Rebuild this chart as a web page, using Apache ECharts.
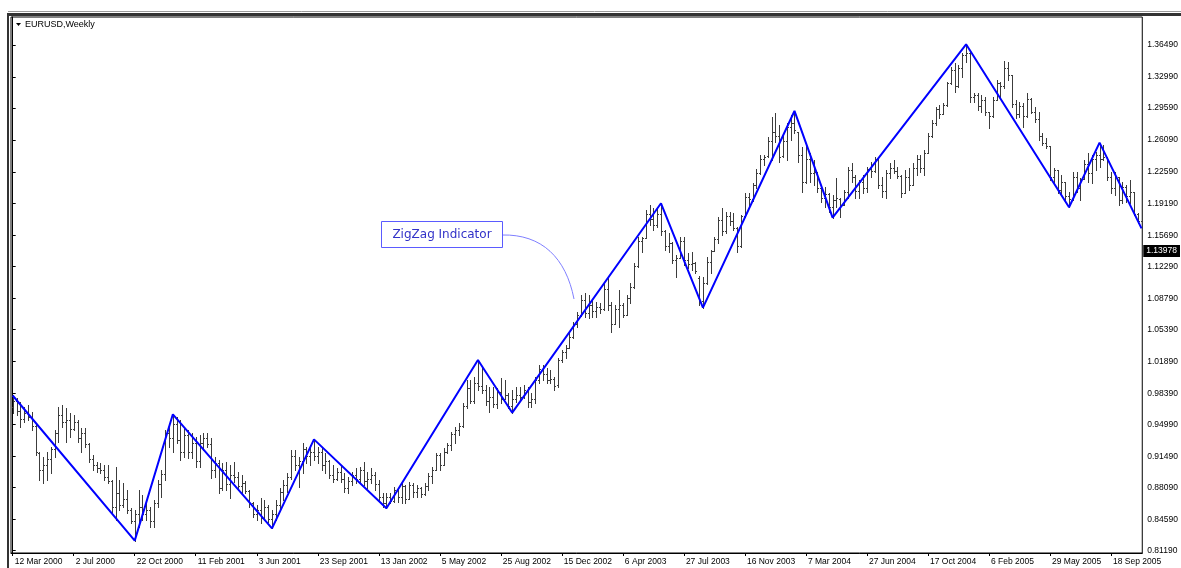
<!DOCTYPE html>
<html>
<head>
<meta charset="utf-8">
<script src="https://cdn.jsdelivr.net/npm/echarts@6/dist/echarts.min.js"></script>
<style>
html,body{margin:0;padding:0;background:#fff;}
#chart{width:1181px;height:568px;}
</style>
</head>
<body>
<div id="chart"></div>
<script>
// Weekly EURUSD bars, 12 Mar 2000 .. 13 Nov 2005 (index = week number)
var opens = [
.9690,.9760,.9650,.9560,.9620,.9580,.9480,.9190,.9000,.9050,
.9120,.9230,.9400,.9600,.9520,.9550,.9450,.9520,.9350,.9400,
.9280,.9120,.9050,.9020,.9000,.8920,.8880,.8600,.8750,.8620,
.8680,.8560,.8440,.8520,.8600,.8520,.8560,.8440,.8640,.8850,
.8960,.9400,.9350,.9500,.9330,.9200,.9380,.9200,.9300,.9100,
.9300,.9350,.9280,.9000,.9080,.8800,.9000,.8850,.8950,.8920,
.8820,.8860,.8770,.8640,.8520,.8560,.8480,.8600,.8460,.8520,
.8620,.8760,.8840,.8920,.9150,.9050,.9100,.9230,.9150,.9200,
.9150,.9200,.9050,.9100,.8950,.8900,.8980,.8900,.8800,.8880,
.8950,.8900,.9000,.8880,.8900,.8950,.8850,.8700,.8640,.8700,
.8660,.8780,.8700,.8820,.8680,.8840,.8760,.8800,.8740,.8830,
.8930,.9000,.9160,.9050,.9200,.9270,.9390,.9440,.9480,.9700,
.9900,.9760,.9950,.9920,.9880,.9760,.9800,.9720,.9850,.9780,
.9820,.9700,.9780,.9820,.9800,.9870,.9740,.9780,.9980,1.0100,
1.0050,.9980,1.0000,.9930,1.0200,1.0290,1.0340,1.0460,1.0600,1.0700,
1.0860,1.0720,1.0800,1.0740,1.0780,1.0760,1.0980,1.0800,1.0600,1.0760,
1.0800,1.0700,1.0880,1.1000,1.1230,1.1500,1.1540,1.1800,1.1750,1.1680,
1.1800,1.1620,1.1450,1.1480,1.1300,1.1320,1.1500,1.1300,1.1250,1.1260,
1.1100,1.0850,1.1050,1.1280,1.1400,1.1530,1.1730,1.1620,1.1780,1.1720,
1.1650,1.1450,1.1780,1.1990,1.1960,1.2120,1.2250,1.2400,1.2430,1.2600,
1.2700,1.2650,1.2430,1.2600,1.2750,1.2800,1.2700,1.2450,1.2150,1.2400,
1.2250,1.2260,1.2080,1.1980,1.2020,1.1880,1.1950,1.1970,1.1900,1.2040,
1.2280,1.2200,1.2050,1.2150,1.2080,1.2290,1.2270,1.2400,1.2120,1.2050,
1.2250,1.2300,1.2270,1.2220,1.2030,1.2200,1.2120,1.2300,1.2400,1.2300,
1.2470,1.2650,1.2800,1.2950,1.2900,1.2990,1.3230,1.3380,1.3200,1.3400,
1.3540,1.3560,1.3080,1.3100,1.2980,1.3050,1.2920,1.2870,1.3050,1.3230,
1.3200,1.3400,1.3320,1.3000,1.2900,1.2980,1.2870,1.3060,1.2920,1.2840,
1.2650,1.2580,1.2540,1.2200,1.2280,1.2060,1.2150,1.2000,1.1960,1.2200,
1.2080,1.2180,1.2350,1.2250,1.2400,1.2450,1.2400,1.2420,1.2200,1.2080,
1.2200,1.1950,1.2100,1.2000,1.2040,1.1800,1.1720
];
var highs = [
.9815,.9784,.9747,.9693,.9711,.9638,.9510,.9200,.9146,.9200,
.9255,.9437,.9693,.9711,.9675,.9620,.9602,.9547,.9456,.9456,
.9300,.9164,.9091,.9073,.9055,.9055,.8890,.9036,.8890,.8854,
.8781,.8580,.8562,.8781,.8726,.8635,.8599,.8672,.8890,.9000,
.9437,.9474,.9609,.9583,.9547,.9474,.9437,.9401,.9360,.9383,
.9401,.9401,.9346,.9146,.9109,.9073,.9091,.9055,.9091,.8981,
.8945,.8880,.8781,.8653,.8617,.8690,.8672,.8617,.8562,.8672,
.8799,.8890,.8963,.9219,.9219,.9146,.9292,.9255,.9273,.9335,
.9255,.9255,.9182,.9109,.9055,.9018,.9055,.8963,.8927,.8981,
.9018,.9036,.9091,.8981,.9018,.8981,.8890,.8750,.8744,.8744,
.8817,.8799,.8872,.8835,.8872,.8854,.8835,.8817,.8854,.8963,
.9036,.9182,.9182,.9237,.9292,.9419,.9474,.9510,.9729,.9984,
.9984,1.0021,1.0203,1.0130,.9930,.9912,.9912,.9893,1.0003,.9984,
.9839,.9875,.9912,.9912,.9930,.9912,.9839,1.0021,1.0148,1.0148,
1.0112,1.0094,1.0021,1.0221,1.0313,1.0367,1.0495,1.0620,1.0732,1.0914,
1.0933,1.0914,1.0860,1.0841,1.0823,1.1042,1.1097,1.0841,1.0805,1.0969,
1.0823,1.0914,1.1042,1.1261,1.1553,1.1553,1.1844,1.1900,1.1863,1.1881,
1.1918,1.1626,1.1590,1.1490,1.1352,1.1553,1.1553,1.1370,1.1388,1.1279,
1.1120,1.1115,1.1334,1.1407,1.1553,1.1771,1.1863,1.1826,1.1826,1.1808,
1.1660,1.1790,1.2027,1.2027,1.2140,1.2290,1.2446,1.2446,1.2647,1.2865,
1.2902,1.2774,1.2665,1.2793,1.2884,1.2928,1.2701,1.2537,1.2556,1.2464,
1.2391,1.2264,1.2100,1.2100,1.2027,1.2008,1.2191,1.1972,1.2063,1.2319,
1.2355,1.2227,1.2173,1.2227,1.2319,1.2373,1.2428,1.2428,1.2209,1.2282,
1.2355,1.2391,1.2319,1.2227,1.2282,1.2300,1.2355,1.2446,1.2446,1.2501,
1.2683,1.2829,1.2975,1.2993,1.3011,1.3250,1.3413,1.3449,1.3431,1.3558,
1.3657,1.3595,1.3121,1.3121,1.3103,1.3084,1.2920,1.3084,1.3267,1.3248,
1.3475,1.3467,1.3321,1.3048,1.3030,1.3011,1.3121,1.3066,1.2975,1.2920,
1.2683,1.2628,1.2545,1.2300,1.2282,1.2227,1.2154,1.2045,1.2264,1.2264,
1.2190,1.2391,1.2464,1.2446,1.2483,1.2581,1.2560,1.2428,1.2264,1.2264,
1.2209,1.2154,1.2118,1.2173,1.2045,1.1808,1.1790
];
var lows = [
.9620,.9602,.9474,.9529,.9547,.9437,.9160,.8890,.8854,.8890,
.8963,.9146,.9310,.9474,.9310,.9364,.9437,.9310,.9200,.9255,
.9091,.9000,.8982,.8963,.8890,.8854,.8526,.8453,.8562,.8600,
.8526,.8416,.8227,.8380,.8453,.8453,.8380,.8380,.8599,.8708,
.8890,.9255,.9200,.9292,.9109,.9146,.9127,.9127,.9030,.9036,
.9219,.9255,.8909,.8927,.8744,.8780,.8781,.8690,.8872,.8781,
.8744,.8744,.8598,.8489,.8453,.8416,.8453,.8434,.8361,.8453,
.8562,.8672,.8763,.8900,.9000,.8817,.8963,.9073,.9055,.9109,
.9073,.9000,.8963,.8909,.8872,.8890,.8872,.8763,.8744,.8836,
.8854,.8872,.8836,.8799,.8854,.8781,.8672,.8599,.8581,.8635,
.8653,.8653,.8635,.8635,.8680,.8708,.8708,.8708,.8726,.8781,
.8854,.9000,.8999,.9050,.9182,.9219,.9292,.9383,.9474,.9675,
.9729,.9729,.9875,.9839,.9711,.9638,.9693,.9675,.9729,.9775,
.9675,.9627,.9747,.9766,.9784,.9693,.9693,.9729,.9948,.9984,
.9948,.9948,.9875,.9910,1.0185,1.0221,1.0330,1.0440,1.0568,1.0690,
1.0677,1.0659,1.0677,1.0677,1.0714,1.0750,1.0750,1.0513,1.0600,1.0568,
1.0677,1.0700,1.0823,1.0990,1.1224,1.1388,1.1540,1.1680,1.1626,1.1662,
1.1571,1.1407,1.1388,1.1261,1.1115,1.1316,1.1243,1.1206,1.1188,1.1152,
1.0805,1.0776,1.1040,1.1152,1.1400,1.1480,1.1571,1.1590,1.1680,1.1626,
1.1388,1.1440,1.1771,1.1863,1.1940,1.2080,1.2240,1.2337,1.2428,1.2391,
1.2592,1.2373,1.2428,1.2391,1.2610,1.2683,1.2373,1.2045,1.2140,1.2154,
1.2118,1.2045,1.1936,1.1881,1.1826,1.1761,1.1881,1.1771,1.1899,1.1972,
1.2154,1.1972,1.1972,1.2027,1.2045,1.2209,1.2264,1.2081,1.1990,1.1972,
1.2191,1.2246,1.2191,1.1990,1.2027,1.2063,1.2118,1.2227,1.2264,1.2227,
1.2464,1.2647,1.2774,1.2847,1.2890,1.2980,1.3220,1.3139,1.3194,1.3303,
1.3467,1.3030,1.3030,1.2938,1.2920,1.2884,1.2738,1.2866,1.3048,1.3084,
1.3176,1.3267,1.2975,1.2847,1.2866,1.2756,1.2866,1.2902,1.2811,1.2610,
1.2555,1.2519,1.2173,1.2154,1.2027,1.2008,1.1954,1.1874,1.1954,1.2045,
1.1954,1.2180,1.2154,1.2136,1.2282,1.2319,1.2391,1.2173,1.2027,1.2008,
1.1899,1.1917,1.1935,1.1917,1.1790,1.1698,1.1644
];
var closes = [
.9760,.9650,.9560,.9620,.9580,.9480,.9200,.9000,.9050,.9120,
.9230,.9400,.9600,.9520,.9550,.9450,.9520,.9350,.9400,.9280,
.9120,.9050,.9020,.9000,.8920,.8880,.8600,.8750,.8620,.8680,
.8560,.8440,.8520,.8600,.8520,.8560,.8440,.8640,.8850,.8960,
.9400,.9350,.9500,.9330,.9200,.9380,.9200,.9300,.9100,.9300,
.9350,.9280,.9000,.9080,.8800,.9000,.8850,.8950,.8920,.8820,
.8860,.8770,.8640,.8520,.8560,.8480,.8600,.8460,.8520,.8620,
.8760,.8840,.8920,.9150,.9050,.9100,.9230,.9150,.9200,.9150,
.9200,.9050,.9100,.8950,.8900,.8980,.8900,.8800,.8880,.8950,
.8900,.9000,.8880,.8900,.8950,.8850,.8700,.8640,.8700,.8660,
.8780,.8700,.8820,.8680,.8840,.8760,.8800,.8740,.8830,.8930,
.9000,.9160,.9050,.9200,.9270,.9390,.9440,.9480,.9700,.9900,
.9760,.9950,.9920,.9880,.9760,.9800,.9720,.9850,.9780,.9820,
.9700,.9780,.9820,.9800,.9870,.9740,.9780,.9980,1.0100,1.0050,
.9980,1.0000,.9920,1.0200,1.0290,1.0340,1.0460,1.0600,1.0700,1.0860,
1.0720,1.0800,1.0740,1.0780,1.0760,1.0980,1.0800,1.0600,1.0760,1.0800,
1.0700,1.0880,1.1000,1.1230,1.1500,1.1540,1.1800,1.1750,1.1680,1.1800,
1.1620,1.1450,1.1480,1.1300,1.1320,1.1500,1.1300,1.1250,1.1260,1.1180,
1.0850,1.1050,1.1280,1.1400,1.1530,1.1730,1.1620,1.1780,1.1720,1.1650,
1.1450,1.1780,1.1990,1.1960,1.2120,1.2250,1.2400,1.2420,1.2600,1.2700,
1.2650,1.2420,1.2600,1.2750,1.2800,1.2720,1.2450,1.2150,1.2400,1.2250,
1.2260,1.2080,1.1980,1.2020,1.1880,1.1950,1.1980,1.1900,1.2040,1.2280,
1.2200,1.2050,1.2150,1.2080,1.2290,1.2270,1.2400,1.2120,1.2050,1.2250,
1.2300,1.2270,1.2220,1.2030,1.2200,1.2120,1.2300,1.2400,1.2300,1.2470,
1.2650,1.2800,1.2950,1.2900,1.2990,1.3230,1.3380,1.3200,1.3400,1.3540,
1.3560,1.3080,1.3100,1.2980,1.3050,1.2920,1.2870,1.3050,1.3230,1.3200,
1.3400,1.3320,1.3000,1.2900,1.2980,1.2870,1.3060,1.2920,1.2840,1.2650,
1.2580,1.2540,1.2200,1.2280,1.2060,1.2150,1.2000,1.1960,1.2200,1.2080,
1.2180,1.2350,1.2250,1.2400,1.2450,1.2400,1.2420,1.2200,1.2080,1.2200,
1.1950,1.2100,1.2000,1.2040,1.1800,1.1720,1.1680
];

// ZigZag turning points (week index, price)
var zigzagIndex = [0, 32, 42, 68, 79, 98, 122, 131, 170, 181, 205, 215, 250, 277, 285, 296];
var zigzagValue = [0.9815, 0.8227, 0.9609, 0.8361, 0.9335, 0.8581, 1.0203, 0.9627, 1.1918, 1.0776, 1.2928, 1.1761, 1.3657, 1.1874, 1.2581, 1.1644];

// X axis tick labels (one every 16 weeks)
var tickIndex = [0,16,32,48,64,80,96,112,128,144,160,176,192,208,224,240,256,272,288];
var tickLabels = ['12 Mar 2000','2 Jul 2000','22 Oct 2000','11 Feb 2001','3 Jun 2001','23 Sep 2001',
  '13 Jan 2002','5 May 2002','25 Aug 2002','15 Dec 2002','6 Apr 2003','27 Jul 2003','16 Nov 2003',
  '7 Mar 2004','27 Jun 2004','17 Oct 2004','6 Feb 2005','29 May 2005','18 Sep 2005'];

// Y axis price ticks
var priceTicks = [0.81190,0.84590,0.88090,0.91490,0.94990,0.98390,1.01890,1.05390,1.08790,
  1.12290,1.15690,1.19190,1.22590,1.26090,1.29590,1.32990,1.36490];

// Current bid shown in the price scale
var bidPrice = 1.13978;

var FONT = "'Liberation Sans', Arial, sans-serif";
var barColor = '#3c3c3c';

var ohlcData = opens.map(function (o, i) { return [i, o, highs[i], lows[i], closes[i]]; });
var zigzagData = zigzagIndex.map(function (x, k) { return [x, zigzagValue[k]]; });
var lastIndex = opens.length - 1;

function renderOHLC(params, api) {
  var i = api.value(0);
  var pO = api.coord([i, api.value(1)]);
  var pH = api.coord([i, api.value(2)]);
  var pL = api.coord([i, api.value(3)]);
  var pC = api.coord([i, api.value(4)]);
  var c = Math.round(pH[0]);
  var x = c + 0.5;
  var yo = Math.round(pO[1]) + 0.5;
  var yc = Math.round(pC[1]) + 0.5;
  var st = { stroke: barColor, lineWidth: 1 };
  return {
    type: 'group',
    children: [
      { type: 'line', shape: { x1: x, y1: Math.round(pH[1]), x2: x, y2: Math.round(pL[1]) + 1 }, style: st },
      { type: 'line', shape: { x1: c - 1, y1: yo, x2: x, y2: yo }, style: st },
      { type: 'line', shape: { x1: x, y1: yc, x2: c + 2, y2: yc }, style: st }
    ]
  };
}

function renderBid(params, api) {
  var p = api.coord([api.value(0), api.value(1)]);
  var cs = params.coordSys;
  return {
    type: 'text',
    x: cs.x + cs.width + 1,
    y: Math.round(p[1]),
    style: {
      text: api.value(1).toFixed(5),
      fill: '#fff',
      backgroundColor: '#000',
      padding: [2, 3, 1, 3],
      font: "8.5px 'Liberation Sans', Arial, sans-serif",
      verticalAlign: 'middle',
      align: 'left'
    }
  };
}

var chart = echarts.init(document.getElementById('chart'), null, { renderer: 'canvas' });
chart.setOption({
  animation: false,
  backgroundColor: '#ffffff',
  grid: { left: 11, top: 17, right: 37, bottom: 15, show: true, borderColor: '#000', borderWidth: 1, backgroundColor: 'transparent' },
  xAxis: {
    type: 'value',
    min: -0.445,
    max: 296.2,
    axisLine: { show: true, onZero: false, lineStyle: { color: '#000', width: 1 } },
    axisTick: { show: true, length: 3, customValues: tickIndex, lineStyle: { color: '#000' } },
    axisLabel: {
      customValues: tickIndex,
      align: 'left',
      margin: 4,
      padding: [0, 0, 0, 2],
      color: '#000',
      fontSize: 8.5,
      fontFamily: FONT,
      formatter: function (v) { return tickLabels[Math.round(v / 16)] || ''; }
    },
    splitLine: { show: false }
  },
  yAxis: {
    type: 'value',
    position: 'right',
    min: 0.80917,
    max: 1.39560,
    axisLine: { show: true, lineStyle: { color: '#000', width: 1 } },
    axisTick: { show: true, length: 3, customValues: priceTicks, lineStyle: { color: '#000' } },
    axisLabel: {
      customValues: priceTicks,
      margin: 5,
      color: '#000',
      fontSize: 8.5,
      fontFamily: FONT,
      formatter: function (v) { return v.toFixed(5); }
    },
    splitLine: { show: false }
  },
  series: [
    {
      type: 'custom',
      name: 'EURUSD',
      renderItem: renderOHLC,
      clip: true,
      encode: { x: 0, y: [1, 2, 3, 4] },
      data: ohlcData,
      z: 2
    },
    {
      type: 'line',
      name: 'ZigZag',
      data: zigzagData,
      symbol: 'none',
      clip: true,
      lineStyle: { color: '#0000ff', width: 2 },
      z: 3
    },
    {
      type: 'custom',
      name: 'Bid',
      renderItem: renderBid,
      clip: false,
      silent: true,
      encode: { x: 0, y: 1 },
      data: [[lastIndex, bidPrice]],
      z: 10
    }
  ],
  graphic: [
    { type: 'line', silent: true, shape: { x1: 8, y1: 11.5, x2: 1181, y2: 11.5 }, style: { stroke: '#9a9a9a', lineWidth: 1 } },
    { type: 'rect', silent: true, shape: { x: 7, y: 13, width: 1174, height: 3 }, style: { fill: '#333' } },
    { type: 'rect', silent: true, shape: { x: 7, y: 13, width: 2, height: 555 }, style: { fill: '#333' } },
    { type: 'polygon', silent: true, shape: { points: [[16, 23], [21, 23], [18.5, 26]] }, style: { fill: '#000' } },
    { type: 'text', silent: true, x: 25, y: 25, style: { text: 'EURUSD,Weekly', fill: '#000', font: "9px 'Liberation Sans', Arial, sans-serif", verticalAlign: 'middle' } },
    { type: 'bezierCurve', silent: true, shape: { x1: 502, y1: 235, cpx1: 542, cpy1: 234, cpx2: 566, cpy2: 258, x2: 574, y2: 299 }, style: { stroke: '#7f7fff', lineWidth: 1, fill: null } },
    { type: 'rect', silent: true, shape: { x: 381.5, y: 221.5, width: 121, height: 26 }, style: { fill: '#fff', stroke: '#5b5bff', lineWidth: 1 } },
    { type: 'text', silent: true, x: 442, y: 235, style: { text: 'ZigZag Indicator', fill: '#3232c8', font: "12px 'DejaVu Sans', sans-serif", align: 'center', verticalAlign: 'middle' } }
  ]
});
</script>
</body>
</html>
